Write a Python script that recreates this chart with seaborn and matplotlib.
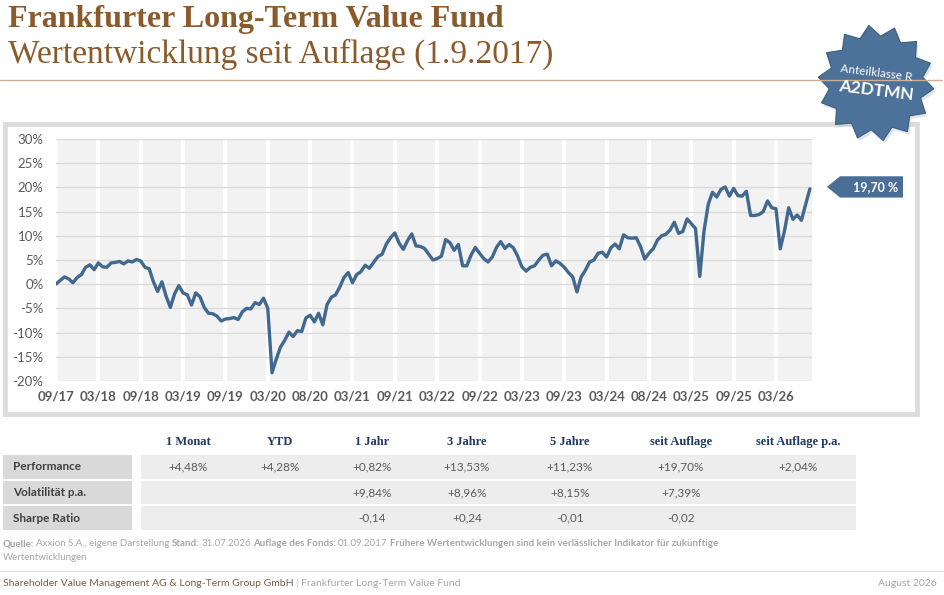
import matplotlib
matplotlib.use("Agg")
import matplotlib.pyplot as plt
import matplotlib.patches as mpatches
import matplotlib.transforms as mtransforms
from matplotlib.lines import Line2D
import numpy as np
import seaborn as sns

sns.set_theme(style="white")
plt.rcParams["font.family"] = ["Lato", "DejaVu Sans"]

W, H = 945, 595

# Wertentwicklung in % (10 points per 6-month tick)
perf = [
    0.0, 0.8, 1.5, 1.1, 0.3, 1.4, 2.0, 3.5, 4.0, 3.0,
    4.4, 3.6, 3.5, 4.4, 4.5, 4.7, 4.2, 4.8, 4.6, 5.1,
    4.8, 3.5, 3.2, 0.5, -1.5, 0.5, -2.5, -4.8, -2.0, -0.3,
    -1.8, -2.2, -4.3, -1.8, -2.6, -4.8, -6.0, -6.1, -6.6, -7.6,
    -7.2, -7.1, -6.9, -7.3, -5.7, -5.0, -5.1, -3.8, -4.2, -2.9,
    -5.0, -18.3, -15.5, -13.0, -11.6, -9.9, -10.8, -9.6, -9.8, -7.0,
    -6.4, -7.8, -6.0, -8.4, -4.2, -2.7, -2.2, -0.6, 1.4, 2.4,
    0.3, 2.0, 2.6, 3.9, 3.3, 4.5, 5.7, 6.2, 8.3, 9.6,
    10.6, 8.5, 7.2, 9.0, 10.4, 7.9, 7.8, 7.4, 6.2, 5.0,
    5.3, 5.8, 9.2, 8.6, 7.0, 8.2, 3.8, 3.8, 6.0, 7.6,
    6.4, 5.3, 4.6, 5.6, 7.6, 8.8, 7.4, 8.2, 7.5, 5.8,
    3.6, 2.7, 3.5, 3.8, 5.0, 6.0, 6.2, 3.8, 4.8, 4.3,
    3.5, 2.4, 1.5, -1.6, 1.5, 2.9, 4.6, 5.0, 6.4, 6.6,
    5.6, 7.5, 8.3, 7.3, 10.2, 9.6, 9.5, 9.6, 7.8, 5.2,
    6.4, 7.3, 9.1, 10.0, 10.3, 11.2, 12.8, 10.5, 10.9, 13.5,
    12.5, 11.5, 1.6, 11.0, 16.5, 19.0, 18.0, 19.6, 20.1, 18.2,
    19.8, 18.3, 18.2, 19.2, 14.2, 14.2, 14.4, 15.0, 17.2, 15.8,
    15.6, 7.3, 11.0, 15.8, 13.4, 14.3, 13.2, 16.5, 19.7,
]
tick_labels = ["09/17", "03/18", "09/18", "03/19", "09/19", "03/20", "08/20",
               "03/21", "09/21", "03/22", "09/22", "03/23", "09/23", "03/24",
               "08/24", "03/25", "09/25", "03/26"]
y_ticks = [-20, -15, -10, -5, 0, 5, 10, 15, 20, 25, 30]
last_label = "19,70 %"

table_cols = ["1 Monat", "YTD", "1 Jahr", "3 Jahre", "5 Jahre",
              "seit Auflage", "seit Auflage p.a."]
row_names = ["Performance", "Volatilität p.a.", "Sharpe Ratio"]
perf_row = ["+4,48%", "+4,28%", "+0,82%", "+13,53%", "+11,23%", "+19,70%", "+2,04%"]
vol_row = ["", "", "+9,84%", "+8,96%", "+8,15%", "+7,39%", ""]
sharpe_row = ["", "", "-0,14", "+0,24", "-0,01", "-0,02", ""]

BROWN = "#8B5A2B"
BLUE = "#41698F"
NAVY = "#1F3864"
GREY = "#595959"


def fx(x):
    return x / W


def fy(y):
    return 1 - y / H


fig = plt.figure(figsize=(W / 100, H / 100), dpi=100)
fig.patch.set_facecolor("white")

# header
fig.text(fx(8), fy(27), "Frankfurter Long-Term Value Fund", family="Liberation Serif",
         weight="bold", size=23, color=BROWN, va="baseline")
fig.text(fx(8), fy(63), "Wertentwicklung seit Auflage (1.9.2017)", family="Liberation Serif",
         size=24, color=BROWN, va="baseline")
fig.add_artist(Line2D([0, fx(942)], [fy(80), fy(80)], color="#CDAE92", lw=1.0))

# badge
cx, cy, n = 876, 83, 14
ang = np.linspace(0, 2 * np.pi, 2 * n, endpoint=False) + 0.1
rad = np.where(np.arange(2 * n) % 2 == 0, 58, 47)
shadow = [(fx(cx + 2 + r * np.cos(a)), fy(cy + 3 + r * np.sin(a))) for r, a in zip(rad, ang)]
star = [(fx(cx + r * np.cos(a)), fy(cy + r * np.sin(a))) for r, a in zip(rad, ang)]
fig.add_artist(mpatches.Polygon(shadow, closed=True, transform=fig.transFigure,
                                facecolor="#C4CAD0", edgecolor="none", alpha=0.5))
fig.add_artist(mpatches.Polygon(star, closed=True, transform=fig.transFigure,
                                facecolor="#4D7299", edgecolor="#3D5E80", lw=0.8))
fig.text(fx(cx), fy(cy - 10), "Anteilklasse R", color="white", size=8.5,
         ha="center", va="center", rotation=-7)
fig.text(fx(cx), fy(cy + 8), "A2DTMN", color="white", size=12.5, weight="bold",
         ha="center", va="center", rotation=-7)

# chart frame (behind the axes)
frame = mpatches.Rectangle((fx(5), fy(414)), fx(917) - fx(5), fy(124) - fy(414),
                           transform=fig.transFigure, facecolor="white",
                           edgecolor="#DCDCDC", lw=3.5, zorder=-5)
fig.add_artist(frame)

ax = fig.add_axes([fx(56), fy(381), fx(812) - fx(56), fy(139) - fy(381)])
ax.set_zorder(2)
ax.set_facecolor("#F2F2F2")
idx = np.arange(len(perf))
ax.set_axisbelow(True)
ax.yaxis.grid(True, color="#DADADA", lw=1.0)
ax.xaxis.grid(True, color="white", lw=3.0)
sns.lineplot(x=idx, y=perf, ax=ax, color=BLUE, lw=2.4)
ax.set_xlim(0, len(perf) - 0.5)
ax.set_ylim(y_ticks[0], y_ticks[-1])
ax.set_xticks(range(0, 10 * len(tick_labels), 10))
ax.set_xticklabels(tick_labels)
ax.set_yticks(y_ticks)
ax.set_yticklabels([f"{v}%" for v in y_ticks])
ax.set_xlabel("")
ax.set_ylabel("")
for s in ax.spines.values():
    s.set_visible(False)
ax.tick_params(axis="y", length=0, pad=9, labelsize=9.5, labelcolor=GREY)
ax.tick_params(axis="x", length=0, pad=7, labelsize=9.5, labelcolor=GREY)
for t in ax.get_xticklabels():
    t.set_fontweight("bold")

# end value tag
v = perf[-1]
tr = mtransforms.blended_transform_factory(fig.transFigure, ax.transData)
tag = [(fx(827), v + 0.4), (fx(840), v + 2.6), (fx(903), v + 2.6),
       (fx(903), v - 1.8), (fx(840), v - 1.8)]
fig.add_artist(mpatches.Polygon(tag, closed=True, transform=tr, facecolor="#4A6F96",
                                edgecolor="none", clip_on=False, zorder=3))
fig.text(fx(876), v + 0.4, last_label, transform=tr, color="white", size=9,
         weight="bold", ha="center", va="center", zorder=4)

# table
col_x = [188, 280, 372, 467, 570, 681, 798]
rows_y = [(455, 479), (481, 504), (506, 530)]
for name, (y0, y1), vals in zip(row_names, rows_y, [perf_row, vol_row, sharpe_row]):
    fig.add_artist(mpatches.Rectangle((fx(3), fy(y1)), fx(132) - fx(3), fy(y0) - fy(y1),
                                      transform=fig.transFigure, facecolor="#D9D9D9",
                                      edgecolor="none"))
    fig.add_artist(mpatches.Rectangle((fx(141), fy(y1)), fx(856) - fx(141), fy(y0) - fy(y1),
                                      transform=fig.transFigure, facecolor="#EDEDED",
                                      edgecolor="none"))
    yc = (y0 + y1) / 2
    fig.text(fx(13), fy(yc), name, size=8.5, color="#404040", weight="bold", va="center")
    for x, val in zip(col_x, vals):
        fig.text(fx(x), fy(yc), val, size=8.5, color=GREY, ha="center", va="center")
for x, c in zip(col_x, table_cols):
    fig.text(fx(x), fy(442), c, family="Liberation Serif", size=9, weight="bold",
             color=NAVY, ha="center", va="center")

renderer = fig.canvas.get_renderer()


def run_text(x, y, parts, size, gap=True):
    for s, props in parts:
        t = fig.text(fx(x), fy(y), s, size=size, va="center", **props)
        x += t.get_window_extent(renderer=renderer).width
        if gap:
            x += size * 0.3
    return x


note_c = "#A6A6A6"
run_text(3, 544, [
    ("Quelle:", dict(weight="bold", color=note_c)),
    ("Axxion S.A., eigene Darstellung", dict(color=note_c)),
    ("Stand:", dict(weight="bold", color=note_c)),
    ("31.07.2026", dict(color=note_c)),
    ("Auflage des Fonds:", dict(weight="bold", color=note_c)),
    ("01.09.2017", dict(color=note_c)),
    ("Frühere Wertentwicklungen sind kein verlässlicher Indikator für zukünftige",
     dict(weight="bold", color=note_c)),
], size=7)
fig.text(fx(3), fy(557), "Wertentwicklungen", size=7, color=note_c, va="center")

# footer
fig.add_artist(Line2D([0, 1], [fy(571), fy(571)], color="#E4E4E4", lw=1.0))
run_text(3, 583, [
    ("Shareholder Value Management AG & Long-Term Group GmbH", dict(color="#7A5C45")),
    ("|", dict(color="#C8C8C8")),
    ("Frankfurter Long-Term Value Fund", dict(color=note_c)),
], size=7.5)
fig.text(fx(937), fy(583), "August 2026", size=7.5, color=note_c, ha="right", va="center")

fig.savefig("out.png", dpi=100)
